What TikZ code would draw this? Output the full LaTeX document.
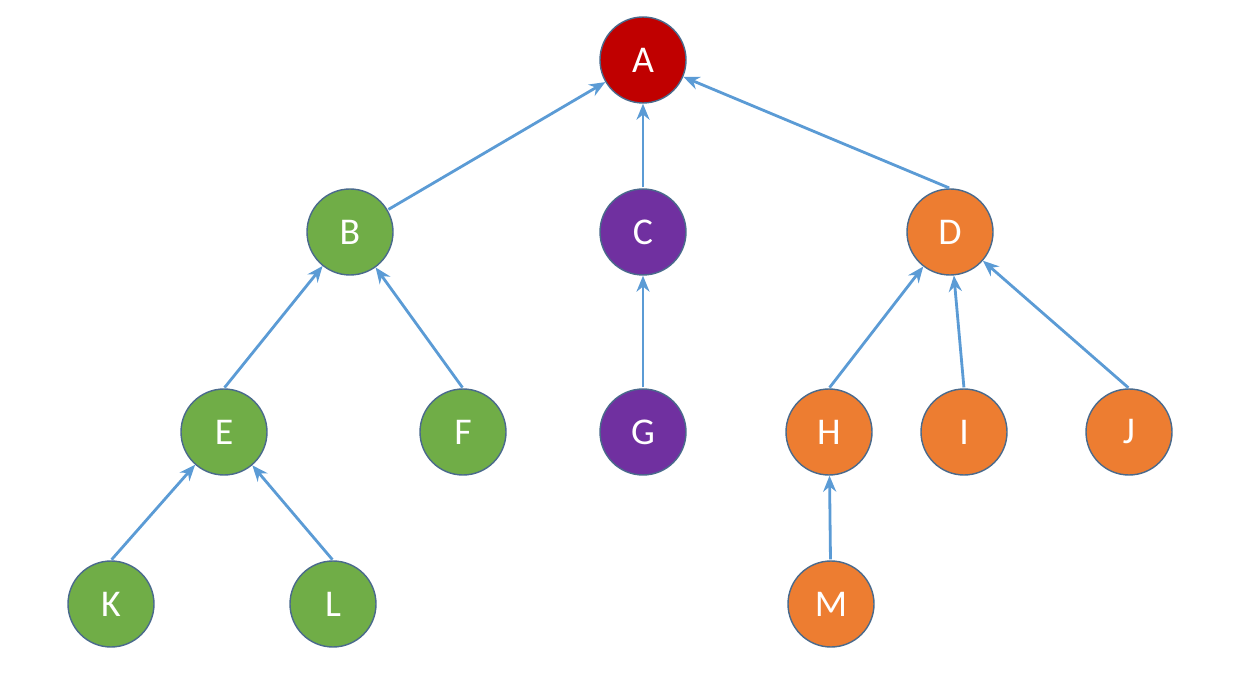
\documentclass[tikz,border=0pt]{standalone}
\usepackage{fontspec}
\setmainfont{Carlito}
\usetikzlibrary{arrows.meta}
\definecolor{leafgreen}{HTML}{70AD47}
\definecolor{treeorange}{HTML}{ED7D31}
\definecolor{treepurple}{HTML}{7030A0}
\definecolor{rootred}{HTML}{C00000}
\definecolor{edgeblue}{HTML}{5B9BD5}
\definecolor{rimblue}{HTML}{4A6A8C}

\begin{document}
\begin{tikzpicture}[
    vert/.style={circle, draw=rimblue, line width=0.8pt, minimum size=1.72cm, inner sep=0pt, text=white, font=\fontsize{21.5}{24}\selectfont},
    up/.style={-{Stealth[length=3.2mm, width=2.6mm]}, draw=edgeblue, line width=1.6pt, shorten <=0.5pt},
]
\useasboundingbox (0,0) rectangle (24.68,-13.52);

% root
\node[vert, fill=rootred] (A) at (12.86,-1.20) {A};

% second level
\node[vert, fill=leafgreen] (B) at (7.00,-4.64) {B};
\node[vert, fill=treepurple] (C) at (12.86,-4.64) {C};
\node[vert, fill=treeorange] (D) at (19.00,-4.64) {D};

% third level
\node[vert, fill=leafgreen] (E) at (4.48,-8.64) {E};
\node[vert, fill=leafgreen] (F) at (9.26,-8.64) {F};
\node[vert, fill=treepurple] (G) at (12.86,-8.64) {G};
\node[vert, fill=treeorange] (H) at (16.58,-8.64) {H};
\node[vert, fill=treeorange] (I) at (19.28,-8.64) {I};
\node[vert, fill=treeorange] (J) at (22.58,-8.64) {J};

% leaves
\node[vert, fill=leafgreen] (K) at (2.22,-12.08) {K};
\node[vert, fill=leafgreen] (L) at (6.66,-12.08) {L};
\node[vert, fill=treeorange] (M) at (16.62,-12.08) {M};

\draw[up] (B) -- (A);
\draw[up] (C) -- (A);
\draw[up] (D.north) -- (A);
\draw[up] (E.north) -- (B);
\draw[up] (F.north) -- (B);
\draw[up] (G) -- (C);
\draw[up] (H.north) -- (D);
\draw[up] (I.north) -- (D);
\draw[up] (J.north) -- (D);
\draw[up] (K.north) -- (E);
\draw[up] (L.north) -- (E);
\draw[up] (M) -- (H);
\end{tikzpicture}
\end{document}
